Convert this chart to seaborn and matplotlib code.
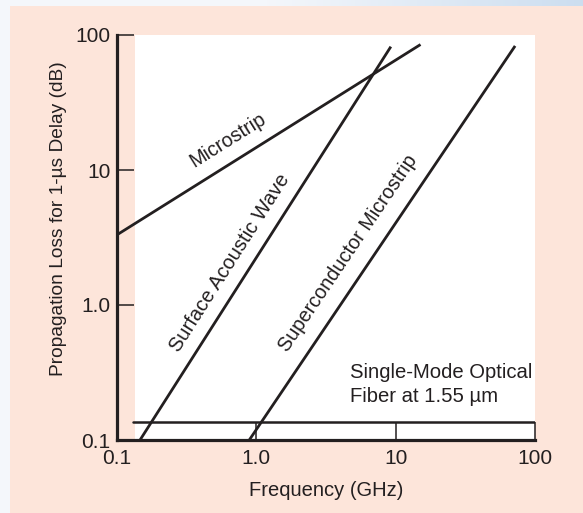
import numpy as np
import pandas as pd
import matplotlib
matplotlib.use("Agg")
import matplotlib.pyplot as plt
from matplotlib.patches import Rectangle
import seaborn as sns

# ---- data ----
series_names = ["Microstrip", "Surface Acoustic Wave", "Superconductor Microstrip"]
microstrip_freq = [0.1, 15.1]
microstrip_loss = [3.3, 85.0]
saw_freq = [0.147, 9.25]
saw_loss = [0.1, 82.0]
sc_freq = [0.893, 72.0]
sc_loss = [0.1, 83.0]
fiber_freq = [0.13, 100.0]
fiber_loss = [0.136, 0.136]

tick_values = [0.1, 1.0, 10, 100]
x_tick_labels = ["0.1", "1.0", "10", "100"]
y_tick_labels = ["0.1", "1.0", "10", "100"]

df = pd.DataFrame({
    "freq": microstrip_freq + saw_freq + sc_freq,
    "loss": microstrip_loss + saw_loss + sc_loss,
    "series": [series_names[0]] * 2 + [series_names[1]] * 2 + [series_names[2]] * 2,
})
fiber_df = pd.DataFrame({"freq": fiber_freq, "loss": fiber_loss})

sns.set_style("ticks")
plt.rcParams["font.family"] = ["Liberation Sans", "DejaVu Sans"]
INK = "#231f20"
PEACH = "#fde5da"

W, H = 583, 513
fig = plt.figure(figsize=(W / 100, H / 100), dpi=100)
fig.patch.set_facecolor("#f4f7fb")

# background axes: peach panel + decorative top band gradient
bg = fig.add_axes([0, 0, 1, 1], zorder=-5)
bg.set_axis_off()
bg.add_patch(Rectangle((10, 6), W - 10, H - 6, facecolor=PEACH, edgecolor="none"))
grad = np.linspace(0, 1, 256)
c0 = np.array([0.96, 0.97, 0.985])
c1 = np.array([0.80, 0.87, 0.94])
t = np.clip((grad - 0.45) / 0.55, 0, 1)[:, None]
img = (c0 * (1 - t) + c1 * t)[None, :, :]
bg.imshow(img, aspect="auto", extent=[0, W, 6, 0])
bg.set_xlim(0, W)
bg.set_ylim(H, 0)

left, right = 116.7 / W, 535 / W
top, bottom = 1 - 35 / H, 1 - 440 / H
ax = fig.add_axes([left, bottom, right - left, top - bottom], zorder=1)
ax.set_facecolor(PEACH)

ax.set_xscale("log")
ax.set_yscale("log")
ax.set_xlim(0.1, 100)
ax.set_ylim(0.1, 100)
ax.axvspan(0.135, 100, color="white", zorder=0, lw=0)

sns.lineplot(data=df, x="freq", y="loss", hue="series", units="series",
             estimator=None, palette=[INK] * 3, legend=False, lw=2.0,
             ax=ax, solid_capstyle="butt", zorder=3)
sns.lineplot(data=fiber_df, x="freq", y="loss", color=INK, lw=1.8,
             estimator=None, ax=ax, zorder=3)

ax.set_xticks(tick_values)
ax.set_xticklabels(x_tick_labels)
ax.set_yticks(tick_values)
ax.set_yticklabels(y_tick_labels)
ax.minorticks_off()
ax.tick_params(axis="x", direction="in", length=13.2, width=1.1, color=INK,
               labelsize=15, labelcolor=INK, pad=6.5)
ax.tick_params(axis="y", direction="in", length=12.2, width=1.1, color=INK,
               labelsize=15, labelcolor=INK, pad=4.5)
for s in ["top", "right"]:
    ax.spines[s].set_visible(False)
for s in ["left", "bottom"]:
    ax.spines[s].set_linewidth(2.3)
    ax.spines[s].set_color(INK)

ax.set_xlabel("Frequency (GHz)", fontsize=14.5, color=INK, va="center")
ax.xaxis.set_label_coords(0.5, -0.1235)
ax.set_ylabel("Propagation Loss for 1-µs Delay (dB)", fontsize=13.8,
              color=INK, va="center")
ax.yaxis.set_label_coords(-0.14, 0.546)

ax.text(0.628, 16.7, "Microstrip", rotation=32, ha="center", va="center",
        fontsize=14.2, color=INK, rotation_mode="anchor")
ax.text(0.65, 2.05, "Surface Acoustic Wave", rotation=57.5, ha="center",
        va="center", fontsize=14.5, color=INK, rotation_mode="anchor")
ax.text(4.56, 2.43, "Superconductor Microstrip", rotation=56, ha="center",
        va="center", fontsize=14.3, color=INK, rotation_mode="anchor")
ax.text(4.72, 0.258, "Single-Mode Optical\nFiber at 1.55 µm", ha="left",
        va="center", fontsize=14.6, color=INK, linespacing=1.3)

fig.savefig("out.png", dpi=100, facecolor=fig.get_facecolor())
